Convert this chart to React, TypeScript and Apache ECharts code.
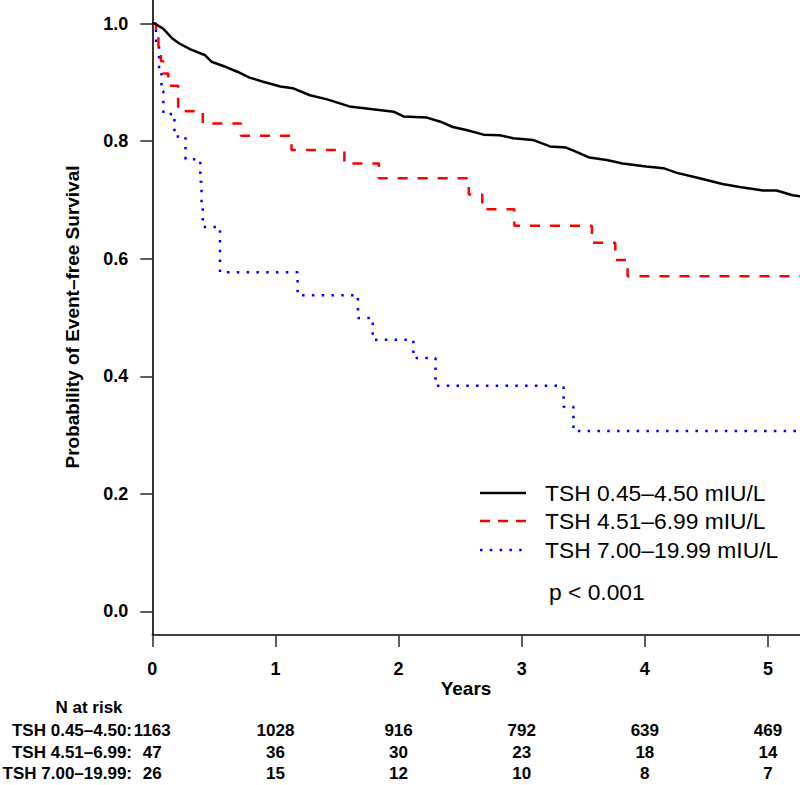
import React, { useEffect, useRef } from "react";
import * as echarts from "echarts";

// ---- Data ----
const yearTicks = [0, 1, 2, 3, 4, 5];
const survTicks = [0, 0.2, 0.4, 0.6, 0.8, 1.0];

const groupNames = ["TSH 0.45–4.50 mIU/L", "TSH 4.51–6.99 mIU/L", "TSH 7.00–19.99 mIU/L"];
const riskLabels = ["TSH 0.45–4.50:", "TSH 4.51–6.99:", "TSH 7.00–19.99:"];
const pValueText = "p < 0.001";

const blackTimes = [0, 0.02, 0.09, 0.16, 0.22, 0.31, 0.43, 0.48, 0.6, 0.69, 0.79, 0.9, 1.04, 1.14, 1.28, 1.42, 1.6, 1.79, 1.96, 2.04, 2.23, 2.34, 2.44, 2.55, 2.69, 2.82, 2.93, 3.09, 3.23, 3.36, 3.44, 3.55, 3.69, 3.82, 4.01, 4.15, 4.26, 4.42, 4.63, 4.77, 4.96, 5.07, 5.2, 5.26];
const blackSurv = [1.0, 1.0, 0.991, 0.975, 0.966, 0.956, 0.946, 0.935, 0.926, 0.918, 0.908, 0.901, 0.893, 0.89, 0.878, 0.871, 0.859, 0.854, 0.85, 0.842, 0.84, 0.833, 0.824, 0.819, 0.811, 0.81, 0.805, 0.802, 0.791, 0.789, 0.782, 0.772, 0.768, 0.762, 0.757, 0.754, 0.746, 0.738, 0.727, 0.722, 0.716, 0.716, 0.708, 0.706];

const redTimes = [0, 0.03, 0.05, 0.07, 0.09, 0.13, 0.21, 0.41, 0.72, 1.13, 1.56, 1.84, 2.57, 2.68, 2.94, 3.57, 3.76, 3.86, 5.26];
const redSurv = [1.0, 0.979, 0.957, 0.936, 0.915, 0.894, 0.851, 0.83, 0.809, 0.785, 0.762, 0.737, 0.709, 0.684, 0.656, 0.627, 0.598, 0.57, 0.57];

const blueTimes = [0, 0.03, 0.055, 0.075, 0.09, 0.18, 0.27, 0.39, 0.4, 0.41, 0.55, 1.18, 1.67, 1.79, 2.12, 2.3, 3.34, 3.42, 5.26];
const blueSurv = [1.0, 0.962, 0.923, 0.885, 0.846, 0.808, 0.769, 0.731, 0.692, 0.654, 0.577, 0.538, 0.499, 0.462, 0.431, 0.384, 0.348, 0.307, 0.307];

const riskTimes = [0, 1, 2, 3, 4, 5];
const riskLow = [1163, 1028, 916, 792, 639, 469];
const riskMid = [47, 36, 30, 23, 18, 14];
const riskHigh = [26, 15, 12, 10, 8, 7];

const colors = ["#000000", "#ff0000", "#0000ff"];

const zip = (t: number[], s: number[]) => t.map((x, i) => [x, s[i]]);

const FONT = "'Liberation Sans', Arial, Helvetica, sans-serif";

export default function App() {
  const ref = useRef<HTMLDivElement>(null);
  useEffect(() => {
    if (!ref.current) return;
    const chart = echarts.init(ref.current, undefined, { renderer: "svg" });
    const option: any = {
      animation: false,
      backgroundColor: "#ffffff",
      grid: { left: 152.3, right: 0, top: 0, bottom: 150, containLabel: false },
      xAxis: {
        type: "value",
        min: 0,
        max: 5.26,
        splitLine: { show: false },
        axisLine: { show: true, onZero: false, lineStyle: { color: "#000", width: 1.6 } },
        axisTick: { show: true, length: 12, inside: false, customValues: yearTicks, lineStyle: { color: "#333", width: 1.6 } },
        axisLabel: {
          show: true,
          customValues: yearTicks,
          margin: 25,
          fontFamily: FONT,
          fontWeight: "bold",
          fontSize: 18,
          color: "#000",
          formatter: (v: number) => String(v),
        },
      },
      yAxis: {
        type: "value",
        min: -0.04,
        max: 1.04,
        splitLine: { show: false },
        axisLine: { show: true, onZero: false, lineStyle: { color: "#000", width: 1.6 } },
        axisTick: { show: true, length: 12, customValues: survTicks, lineStyle: { color: "#333", width: 1.6 } },
        axisLabel: {
          show: true,
          customValues: survTicks,
          margin: 24,
          fontFamily: FONT,
          fontWeight: "bold",
          fontSize: 18,
          color: "#000",
          formatter: (v: number) => v.toFixed(1),
        },
      },
      series: [
        {
          name: groupNames[0],
          type: "line",
          data: zip(blackTimes, blackSurv),
          showSymbol: false,
          symbol: "none",
          lineStyle: { color: colors[0], width: 2.5 },
          z: 3,
        },
        {
          name: groupNames[1],
          type: "line",
          step: "end",
          data: zip(redTimes, redSurv),
          showSymbol: false,
          symbol: "none",
          lineStyle: { color: colors[1], width: 2.5, type: [10, 10], cap: "butt" },
          z: 2,
        },
        {
          name: groupNames[2],
          type: "line",
          step: "end",
          data: zip(blueTimes, blueSurv),
          showSymbol: false,
          symbol: "none",
          lineStyle: { color: colors[2], width: 2.5, type: [2.5, 7.3], cap: "butt" },
          z: 1,
        },
      ],
    };
    chart.setOption(option);

    const elements: any[] = [];
    // y axis title
    elements.push({
      type: "text",
      x: 72,
      y: 317,
      rotation: Math.PI / 2,
      style: {
        text: "Probability of Event–free Survival",
        fontFamily: FONT,
        fontWeight: "bold",
        fontSize: 19,
        fill: "#000",
        align: "center",
        verticalAlign: "middle",
      },
    });
    // x axis title
    elements.push({
      type: "text",
      x: 466,
      y: 688,
      style: { text: "Years", fontFamily: FONT, fontWeight: "bold", fontSize: 19, fill: "#000", align: "center", verticalAlign: "middle" },
    });
    // legend
    const legendY = [493, 521, 550];
    const dashes: any[] = [null, [10, 8], [2.5, 7.3]];
    groupNames.forEach((name, i) => {
      elements.push({
        type: "line",
        shape: { x1: 480, y1: legendY[i], x2: 526, y2: legendY[i] },
        style: { stroke: colors[i], lineWidth: 2.5, lineDash: dashes[i] || undefined },
      });
      elements.push({
        type: "text",
        x: 545,
        y: legendY[i],
        style: { text: name, fontFamily: FONT, fontSize: 22.8, fill: "#000", align: "left", verticalAlign: "middle" },
      });
    });
    elements.push({
      type: "text",
      x: 549,
      y: 592,
      style: { text: pValueText, fontFamily: FONT, fontSize: 22.8, fill: "#000", align: "left", verticalAlign: "middle" },
    });
    // risk table
    elements.push({
      type: "text",
      x: 89,
      y: 707,
      style: { text: "N at risk", fontFamily: FONT, fontWeight: "bold", fontSize: 17, fill: "#000", align: "center", verticalAlign: "middle" },
    });
    const rowY = [730, 752, 773];
    const rows = [riskLow, riskMid, riskHigh];
    rows.forEach((vals, r) => {
      elements.push({
        type: "text",
        x: 132,
        y: rowY[r],
        style: { text: riskLabels[r], fontFamily: FONT, fontWeight: "bold", fontSize: 17, fill: "#000", align: "right", verticalAlign: "middle" },
      });
      vals.forEach((v, i) => {
        const px = chart.convertToPixel({ xAxisIndex: 0 }, riskTimes[i]) as number;
        elements.push({
          type: "text",
          x: px,
          y: rowY[r],
          style: { text: String(v), fontFamily: FONT, fontWeight: "bold", fontSize: 17, fill: "#000", align: "center", verticalAlign: "middle" },
        });
      });
    });
    chart.setOption({ graphic: { elements } });

    return () => chart.dispose();
  }, []);
  return <div ref={ref} style={{ position: "fixed", left: 0, top: 0, width: 800, height: 785, background: "#fff" }} />;
}
